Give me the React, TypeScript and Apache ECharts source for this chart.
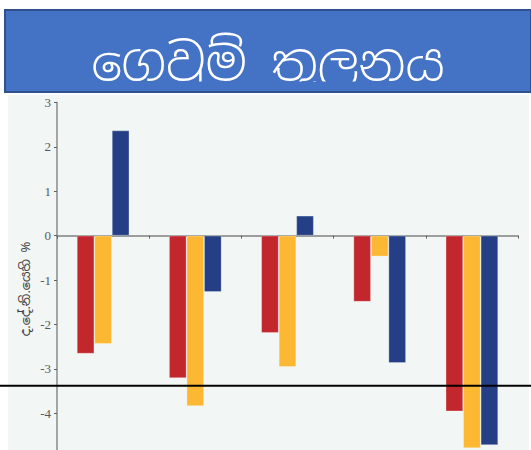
import React, { useEffect, useRef } from "react";
import * as echarts from "echarts";

const categories = ["1", "2", "3", "4", "5"];
const redValues = [-2.66, -3.21, -2.19, -1.49, -3.96];
const yellowValues = [-2.44, -3.84, -2.96, -0.47, -4.79];
const blueValues = [2.37, -1.27, 0.45, -2.87, -4.72];
const yTicks = { min: -5, max: 3, interval: 1 };
const titleText = "ගෙවුම් තුලනය";
const yAxisName = "ද.දේ.නි.යෙහි %";

export default function App() {
  const ref = useRef<HTMLDivElement>(null);
  useEffect(() => {
    const chart = echarts.init(ref.current!, null, { renderer: "svg" });
    const barStyle = (c: string) => ({
      color: c,
      borderColor: "rgba(255,255,255,0.35)",
      borderWidth: 0.8,
    });
    chart.setOption({
      animation: false,
      backgroundColor: "#ffffff",
      graphic: [
        {
          type: "rect",
          z: -10,
          silent: true,
          shape: { x: 8, y: 95, width: 521, height: 370 },
          style: { fill: "#F2F6F5" },
        },
        {
          type: "rect",
          z: 10,
          shape: { x: 5, y: 10, width: 526, height: 82 },
          style: { fill: "#4472C4", stroke: "#2F528F", lineWidth: 2 },
        },
        {
          type: "text",
          z: 11,
          x: 268,
          y: 62,
          style: {
            text: titleText,
            fill: "#ffffff",
            fontSize: 50,
            fontWeight: 300,
            fontFamily: "Noto Sans Sinhala, Noto Sans, sans-serif",
            align: "center",
            verticalAlign: "middle",
          },
        },
        {
          type: "rect",
          z: 12,
          shape: { x: 60, y: 81.5, width: 420, height: 9.5 },
          style: { fill: "#4472C4" },
        },
        {
          type: "rect",
          z: 12,
          shape: { x: 60, y: 93, width: 420, height: 2 },
          style: { fill: "#ffffff" },
        },
        {
          type: "line",
          z: 13,
          shape: { x1: 4, y1: 92, x2: 531, y2: 92 },
          style: { stroke: "#2F528F", lineWidth: 2 },
        },
        {
          type: "text",
          z: 11,
          x: 25,
          y: 289,
          rotation: Math.PI / 2,
          style: {
            text: yAxisName,
            fill: "#404040",
            fontSize: 13,
            fontFamily: "Noto Sans Sinhala, Noto Sans, sans-serif",
            align: "center",
            verticalAlign: "middle",
          },
        },
        {
          type: "line",
          z: 20,
          shape: { x1: 0, y1: 385.7, x2: 531, y2: 385.7 },
          style: { stroke: "#000000", lineWidth: 2 },
        },
      ],
      grid: { left: 57, right: 13, top: 102.5, bottom: 2.5, containLabel: false },
      xAxis: {
        type: "category",
        data: categories,
        axisLine: { onZero: true, lineStyle: { color: "#808080", width: 1.5 } },
        axisTick: { show: true, length: 3, lineStyle: { color: "#606060" } },
        axisLabel: { show: false },
        splitLine: { show: false },
      },
      yAxis: {
        type: "value",
        min: yTicks.min,
        max: yTicks.max,
        interval: yTicks.interval,
        axisLine: { show: true, lineStyle: { color: "#8a8a8a", width: 1.5 } },
        axisTick: { show: true, length: 3, lineStyle: { color: "#606060" } },
        axisLabel: {
          color: "#595959",
          fontSize: 13,
          fontFamily: "Liberation Serif, Times New Roman, serif",
          margin: 6,
          showMinLabel: false,
        },
        splitLine: { show: false },
      },
      series: [
        { type: "bar", name: "red", data: redValues, itemStyle: barStyle("#C1272D"), barGap: "0%", barCategoryGap: "43%" },
        { type: "bar", name: "yellow", data: yellowValues, itemStyle: barStyle("#FDB833"), barGap: "0%", barCategoryGap: "43%" },
        { type: "bar", name: "blue", data: blueValues, itemStyle: barStyle("#243F85"), barGap: "0%", barCategoryGap: "43%" },
      ],
    });
    return () => chart.dispose();
  }, []);
  return (
    <div style={{ position: "absolute", left: 0, top: 0, width: 531, height: 450, overflow: "hidden" }}>
      <div ref={ref} style={{ width: 531, height: 460 }} />
    </div>
  );
}
